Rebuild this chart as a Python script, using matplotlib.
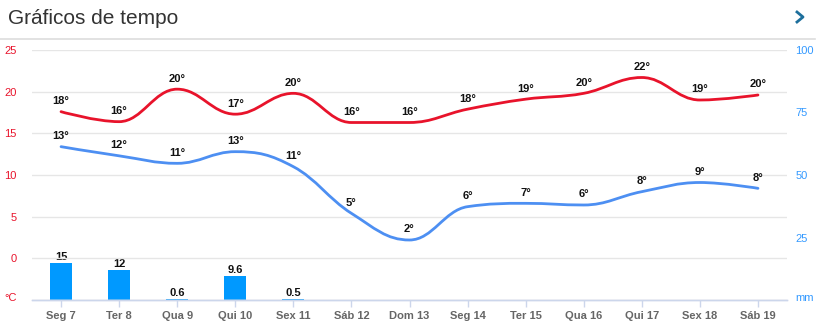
import numpy as np
import matplotlib
matplotlib.use("Agg")
import matplotlib.pyplot as plt
import matplotlib.transforms as mtransforms
from matplotlib.path import Path
from matplotlib.patches import PathPatch
from matplotlib.lines import Line2D

plt.rcParams['font.family'] = ['Liberation Sans', 'DejaVu Sans']

days = ['Seg 7', 'Ter 8', 'Qua 9', 'Qui 10', 'Sex 11', 'Sáb 12', 'Dom 13',
        'Seg 14', 'Ter 15', 'Qua 16', 'Qui 17', 'Sex 18', 'Sáb 19']
temp_max = [17.6, 16.4, 20.3, 17.3, 19.8, 16.3, 16.3, 17.9, 19.1, 19.8, 21.7, 19.0, 19.6]
temp_min = [13.4, 12.3, 11.4, 12.8, 11.0, 5.4, 2.2, 6.2, 6.6, 6.4, 8.0, 9.1, 8.4]
rain = [15, 12, 0.6, 9.6, 0.5, 0, 0, 0, 0, 0, 0, 0, 0]
temp_ticks = [-5, 0, 5, 10, 15, 20, 25]
rain_ticks = [0, 25, 50, 75, 100]

RED = '#e8132b'
BLUE = '#4d8ff2'
BAR = '#0099ff'


def spline_path(xs, ys, smoothing=1.5):
    # cubic bezier spline with clamped control points (no overshoot)
    n = len(xs)
    verts = [(xs[0], ys[0])]
    codes = [Path.MOVETO]
    left = [None] * n
    right = [None] * n
    for i in range(n):
        x, y = xs[i], ys[i]
        if 0 < i < n - 1:
            lx, ly = xs[i - 1], ys[i - 1]
            nx, ny = xs[i + 1], ys[i + 1]
            d = smoothing + 1
            lcx = (smoothing * x + lx) / d
            lcy = (smoothing * y + ly) / d
            rcx = (smoothing * x + nx) / d
            rcy = (smoothing * y + ny) / d
            corr = (rcy - lcy) * (rcx - x) / (rcx - lcx) + y - rcy
            lcy += corr
            rcy += corr
            if lcy > max(ly, y):
                lcy = max(ly, y)
                rcy = 2 * y - lcy
            elif lcy < min(ly, y):
                lcy = min(ly, y)
                rcy = 2 * y - lcy
            if rcy > max(ny, y):
                rcy = max(ny, y)
                lcy = 2 * y - rcy
            elif rcy < min(ny, y):
                rcy = min(ny, y)
                lcy = 2 * y - rcy
            left[i] = (lcx, lcy)
            right[i] = (rcx, rcy)
        else:
            left[i] = (x, y)
            right[i] = (x, y)
    for i in range(1, n):
        verts += [right[i - 1], left[i], (xs[i], ys[i])]
        codes += [Path.CURVE4] * 3
    return Path(verts, codes)


fig = plt.figure(figsize=(8.25, 3.33), dpi=100)
ax = fig.add_axes([32 / 825, 33 / 333, 755 / 825, 250 / 333])
ax2 = ax.twinx()

x = np.arange(len(days))

# precipitation bars on the right axis
ax2.bar(x, rain, width=0.38, color=BAR, zorder=2)
for xi, r in zip(x, rain):
    if r > 0:
        ax2.annotate(f'{r:g}', (xi, r), xytext=(0, 0.5), textcoords='offset points',
                     ha='center', va='bottom', fontsize=8, fontweight='bold', color='#111111')

# temperature splines
for vals, col in [(temp_max, RED), (temp_min, BLUE)]:
    p = spline_path(x, vals)
    ax.add_patch(PathPatch(p, facecolor='none', edgecolor=col, lw=2, zorder=3,
                           capstyle='round'))
    for xi, v in zip(x, vals):
        ax.annotate(f'{round(v)}°', (xi, v), xytext=(0, 4), textcoords='offset points',
                    ha='center', va='bottom', fontsize=8, fontweight='bold', color='#111111',
                    zorder=4)

ax.set_zorder(ax2.get_zorder() + 1)
ax.patch.set_visible(False)

ax.set_xlim(-0.5, len(days) - 0.5)
ax.set_ylim(-5, 25)
ax2.set_ylim(0, 100)

ax.set_yticks(temp_ticks)
ax.set_yticklabels(['°C'] + [str(t) for t in temp_ticks[1:]])
ax2.set_yticks(rain_ticks)
ax2.set_yticklabels(['mm'] + [str(t) for t in rain_ticks[1:]])
ax.tick_params(axis='y', length=0, pad=11, labelsize=8, labelcolor=RED)
ax2.tick_params(axis='y', length=0, pad=6, labelsize=8, labelcolor='#3399ff')

# unit labels sit a little above the axis line
lift = mtransforms.ScaledTranslation(0, 3 / 100, fig.dpi_scale_trans)
ax.get_yticklabels()[0].set_transform(ax.get_yticklabels()[0].get_transform() + lift)
ax2.get_yticklabels()[0].set_transform(ax2.get_yticklabels()[0].get_transform() + lift)

ax.set_xticks(x)
ax.set_xticklabels(days, fontsize=8, fontweight='bold', color='#666666')
ax.tick_params(axis='x', length=5, width=1, color='#ccd6eb', pad=3)

ax.yaxis.grid(True, color='#e6e6e6', lw=1)
ax.set_axisbelow(True)
for a in (ax, ax2):
    for s in ('top', 'left', 'right'):
        a.spines[s].set_visible(False)
    a.spines['bottom'].set_color('#ccd6eb')
    a.spines['bottom'].set_linewidth(1)

# header
fig.text(8 / 825, 1 - 18 / 333, 'Gráficos de tempo', fontsize=15, color='#333333',
         va='center', ha='left')
fig.add_artist(Line2D([0, 815 / 825], [1 - 39 / 333] * 2, color='#dddddd', lw=1.2))
fig.add_artist(Line2D([797 / 825, 803 / 825, 797 / 825],
                      [1 - 12 / 333, 1 - 17 / 333, 1 - 22 / 333],
                      color='#1d6f9c', lw=2))

fig.savefig('out.png', dpi=100)
